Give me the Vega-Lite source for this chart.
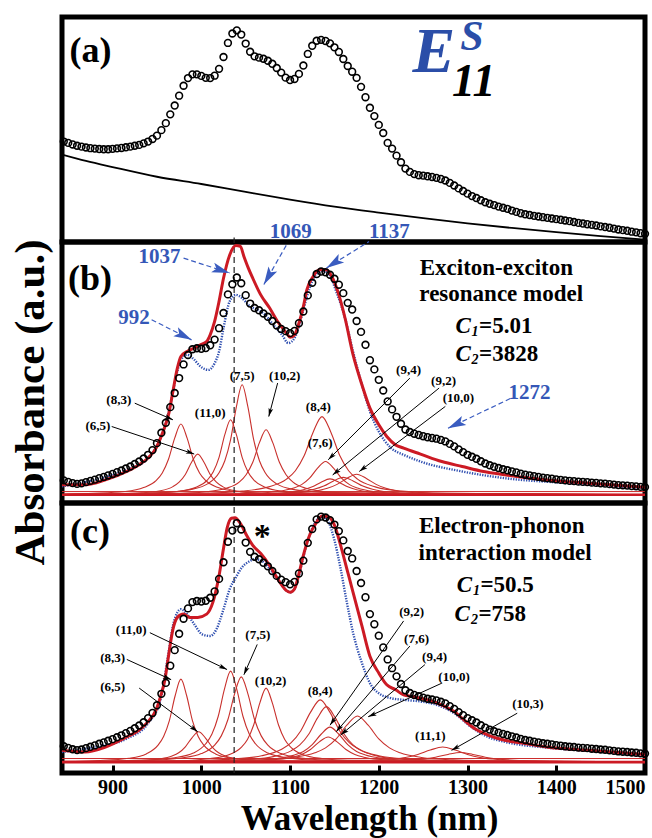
{
"$schema":"https://vega.github.io/schema/vega-lite/v6.json",
"padding":{"left":6,"top":13,"right":4,"bottom":0},
"spacing":0,
"bounds":"flush",
"config":{"view":{"stroke":"black","strokeWidth":5},"font":"Liberation Serif"},
"datasets":{
"circA":[{"x":845,"y":44.6},{"x":850,"y":44.0},{"x":855,"y":43.3},{"x":860,"y":42.7},{"x":865,"y":42.3},{"x":870,"y":41.9},{"x":875,"y":41.6},{"x":880,"y":41.4},{"x":885,"y":41.2},{"x":890,"y":41.1},{"x":895,"y":41.1},{"x":900,"y":41.3},{"x":905,"y":41.5},{"x":910,"y":41.7},{"x":915,"y":42.0},{"x":920,"y":42.3},{"x":925,"y":42.7},{"x":930,"y":43.1},{"x":935,"y":43.8},{"x":940,"y":44.6},{"x":945,"y":45.8},{"x":950,"y":47.3},{"x":955,"y":49.8},{"x":960,"y":53.0},{"x":965,"y":57.0},{"x":970,"y":61.0},{"x":975,"y":65.5},{"x":980,"y":70.0},{"x":985,"y":73.5},{"x":990,"y":75.2},{"x":995,"y":75.2},{"x":1000,"y":74.5},{"x":1005,"y":73.6},{"x":1010,"y":73.5},{"x":1015,"y":74.6},{"x":1020,"y":77.7},{"x":1025,"y":83.1},{"x":1030,"y":89.5},{"x":1035,"y":93.8},{"x":1040,"y":95.2},{"x":1045,"y":93.3},{"x":1050,"y":89.2},{"x":1055,"y":85.5},{"x":1060,"y":83.4},{"x":1065,"y":82.8},{"x":1070,"y":82.3},{"x":1075,"y":81.4},{"x":1080,"y":80.0},{"x":1085,"y":78.1},{"x":1090,"y":76.0},{"x":1095,"y":73.7},{"x":1100,"y":72.6},{"x":1105,"y":73.1},{"x":1110,"y":75.4},{"x":1115,"y":79.2},{"x":1120,"y":84.5},{"x":1125,"y":88.2},{"x":1130,"y":90.5},{"x":1135,"y":90.9},{"x":1140,"y":90.4},{"x":1145,"y":89.3},{"x":1150,"y":87.5},{"x":1155,"y":85.4},{"x":1160,"y":82.2},{"x":1165,"y":79.0},{"x":1170,"y":76.4},{"x":1175,"y":73.6},{"x":1180,"y":69.5},{"x":1185,"y":64.8},{"x":1190,"y":60.0},{"x":1195,"y":56.2},{"x":1200,"y":52.2},{"x":1205,"y":48.5},{"x":1210,"y":44.0},{"x":1215,"y":41.4},{"x":1220,"y":38.2},{"x":1225,"y":35.2},{"x":1230,"y":32.3},{"x":1235,"y":30.8},{"x":1240,"y":29.8},{"x":1245,"y":29.3},{"x":1250,"y":29.1},{"x":1255,"y":28.8},{"x":1260,"y":28.5},{"x":1265,"y":28.1},{"x":1270,"y":27.6},{"x":1275,"y":26.9},{"x":1280,"y":25.8},{"x":1285,"y":24.6},{"x":1290,"y":23.3},{"x":1295,"y":22.1},{"x":1300,"y":20.9},{"x":1305,"y":19.8},{"x":1310,"y":18.9},{"x":1315,"y":17.9},{"x":1320,"y":17.0},{"x":1325,"y":16.3},{"x":1330,"y":15.7},{"x":1335,"y":15.0},{"x":1340,"y":14.5},{"x":1345,"y":14.0},{"x":1350,"y":13.2},{"x":1355,"y":12.6},{"x":1360,"y":12.0},{"x":1365,"y":11.5},{"x":1370,"y":11.2},{"x":1375,"y":10.8},{"x":1380,"y":10.5},{"x":1385,"y":10.2},{"x":1390,"y":9.9},{"x":1395,"y":9.6},{"x":1400,"y":9.3},{"x":1405,"y":9.0},{"x":1410,"y":8.7},{"x":1415,"y":8.4},{"x":1420,"y":8.0},{"x":1425,"y":7.6},{"x":1430,"y":7.3},{"x":1435,"y":7.0},{"x":1440,"y":6.7},{"x":1445,"y":6.4},{"x":1450,"y":6.0},{"x":1455,"y":5.7},{"x":1460,"y":5.4},{"x":1465,"y":5.0},{"x":1470,"y":4.6},{"x":1475,"y":4.3},{"x":1480,"y":4.0},{"x":1485,"y":3.6},{"x":1490,"y":3.3},{"x":1495,"y":2.9},{"x":1500,"y":2.6}],
"baseA":[{"x":843,"y":38.7},{"x":870,"y":35.8},{"x":900,"y":33.0},{"x":950,"y":28.6},{"x":1000,"y":25.3},{"x":1050,"y":21.7},{"x":1100,"y":18.2},{"x":1150,"y":15.0},{"x":1200,"y":12.3},{"x":1250,"y":9.8},{"x":1300,"y":7.4},{"x":1350,"y":5.3},{"x":1400,"y":3.4},{"x":1450,"y":1.6},{"x":1500,"y":0.0}],
"circB":[{"x":845,"y":5.8},{"x":850,"y":5.2},{"x":855,"y":4.7},{"x":860,"y":4.4},{"x":865,"y":4.6},{"x":870,"y":5.1},{"x":875,"y":5.6},{"x":880,"y":6.1},{"x":885,"y":6.7},{"x":890,"y":7.2},{"x":895,"y":7.8},{"x":900,"y":8.4},{"x":905,"y":9.1},{"x":910,"y":9.8},{"x":915,"y":10.6},{"x":920,"y":11.4},{"x":925,"y":12.4},{"x":930,"y":13.4},{"x":935,"y":14.6},{"x":940,"y":16.1},{"x":945,"y":18.0},{"x":950,"y":20.8},{"x":955,"y":25.0},{"x":960,"y":29.0},{"x":965,"y":35.3},{"x":970,"y":41.0},{"x":975,"y":47.0},{"x":980,"y":52.5},{"x":985,"y":56.3},{"x":990,"y":58.6},{"x":995,"y":59.0},{"x":1000,"y":58.8},{"x":1005,"y":59.1},{"x":1010,"y":60.2},{"x":1015,"y":62.5},{"x":1020,"y":67.1},{"x":1025,"y":73.2},{"x":1030,"y":80.7},{"x":1035,"y":84.8},{"x":1040,"y":87.5},{"x":1045,"y":85.2},{"x":1050,"y":80.4},{"x":1055,"y":77.0},{"x":1060,"y":75.2},{"x":1065,"y":74.3},{"x":1070,"y":73.0},{"x":1075,"y":71.7},{"x":1080,"y":70.0},{"x":1085,"y":68.2},{"x":1090,"y":66.8},{"x":1095,"y":65.9},{"x":1100,"y":65.1},{"x":1105,"y":66.0},{"x":1110,"y":69.1},{"x":1115,"y":73.8},{"x":1120,"y":80.3},{"x":1125,"y":85.4},{"x":1130,"y":88.9},{"x":1135,"y":89.9},{"x":1140,"y":89.6},{"x":1145,"y":88.6},{"x":1150,"y":87.0},{"x":1155,"y":84.6},{"x":1160,"y":81.2},{"x":1165,"y":77.3},{"x":1170,"y":74.6},{"x":1175,"y":70.0},{"x":1180,"y":65.6},{"x":1185,"y":60.4},{"x":1190,"y":54.2},{"x":1195,"y":50.5},{"x":1200,"y":46.3},{"x":1205,"y":42.0},{"x":1210,"y":37.6},{"x":1215,"y":34.4},{"x":1220,"y":31.4},{"x":1225,"y":28.6},{"x":1230,"y":26.3},{"x":1235,"y":25.3},{"x":1240,"y":24.6},{"x":1245,"y":24.1},{"x":1250,"y":23.6},{"x":1255,"y":23.2},{"x":1260,"y":22.9},{"x":1265,"y":22.6},{"x":1270,"y":22.1},{"x":1275,"y":21.5},{"x":1280,"y":20.5},{"x":1285,"y":19.5},{"x":1290,"y":18.3},{"x":1295,"y":17.2},{"x":1300,"y":16.1},{"x":1305,"y":15.3},{"x":1310,"y":14.5},{"x":1315,"y":13.5},{"x":1320,"y":12.6},{"x":1325,"y":11.9},{"x":1330,"y":11.3},{"x":1335,"y":10.8},{"x":1340,"y":10.3},{"x":1345,"y":9.9},{"x":1350,"y":9.4},{"x":1355,"y":9.0},{"x":1360,"y":8.5},{"x":1365,"y":8.1},{"x":1370,"y":7.8},{"x":1375,"y":7.5},{"x":1380,"y":7.2},{"x":1385,"y":6.9},{"x":1390,"y":6.7},{"x":1395,"y":6.5},{"x":1400,"y":6.2},{"x":1405,"y":6.0},{"x":1410,"y":5.8},{"x":1415,"y":5.6},{"x":1420,"y":5.5},{"x":1425,"y":5.3},{"x":1430,"y":5.2},{"x":1435,"y":5.1},{"x":1440,"y":4.9},{"x":1445,"y":4.8},{"x":1450,"y":4.6},{"x":1455,"y":4.5},{"x":1460,"y":4.3},{"x":1465,"y":4.1},{"x":1470,"y":3.9},{"x":1475,"y":3.8},{"x":1480,"y":3.7},{"x":1485,"y":3.5},{"x":1490,"y":3.4},{"x":1495,"y":3.2},{"x":1500,"y":3.1}],
"fits":[
{"p":"b","s":"r","x":843,"y":4.0},{"p":"b","s":"r","x":869,"y":4.0},{"p":"b","s":"r","x":892,"y":6.0},{"p":"b","s":"r","x":916,"y":9.4},{"p":"b","s":"r","x":930,"y":12.1},{"p":"b","s":"r","x":940,"y":14.8},{"p":"b","s":"r","x":949,"y":18.8},{"p":"b","s":"r","x":954,"y":22.8},{"p":"b","s":"r","x":959,"y":27.5},{"p":"b","s":"r","x":963,"y":32.2},{"p":"b","s":"r","x":968,"y":41.6},{"p":"b","s":"r","x":973,"y":51.0},{"p":"b","s":"r","x":977,"y":55.7},{"p":"b","s":"r","x":984,"y":57.7},{"p":"b","s":"r","x":992,"y":59.1},{"p":"b","s":"r","x":999,"y":60.4},{"p":"b","s":"r","x":1006,"y":61.7},{"p":"b","s":"r","x":1010,"y":64.4},{"p":"b","s":"r","x":1015,"y":69.8},{"p":"b","s":"r","x":1020,"y":77.9},{"p":"b","s":"r","x":1025,"y":87.2},{"p":"b","s":"r","x":1032,"y":96.6},{"p":"b","s":"r","x":1039,"y":100.4},{"p":"b","s":"r","x":1044,"y":100.0},{"p":"b","s":"r","x":1048,"y":96.0},{"p":"b","s":"r","x":1053,"y":91.3},{"p":"b","s":"r","x":1058,"y":87.2},{"p":"b","s":"r","x":1067,"y":80.5},{"p":"b","s":"r","x":1077,"y":75.2},{"p":"b","s":"r","x":1086,"y":69.8},{"p":"b","s":"r","x":1096,"y":65.1},{"p":"b","s":"r","x":1100,"y":63.4},{"p":"b","s":"r","x":1105,"y":64.4},{"p":"b","s":"r","x":1110,"y":69.1},{"p":"b","s":"r","x":1115,"y":75.8},{"p":"b","s":"r","x":1119,"y":82.6},{"p":"b","s":"r","x":1126,"y":87.9},{"p":"b","s":"r","x":1133,"y":90.6},{"p":"b","s":"r","x":1141,"y":90.6},{"p":"b","s":"r","x":1148,"y":87.2},{"p":"b","s":"r","x":1155,"y":80.5},{"p":"b","s":"r","x":1162,"y":71.1},{"p":"b","s":"r","x":1171,"y":56.4},{"p":"b","s":"r","x":1181,"y":44.3},{"p":"b","s":"r","x":1190,"y":34.9},{"p":"b","s":"r","x":1200,"y":28.2},{"p":"b","s":"r","x":1209,"y":23.5},{"p":"b","s":"r","x":1219,"y":20.1},{"p":"b","s":"r","x":1228,"y":18.8},{"p":"b","s":"r","x":1247,"y":16.4},{"p":"b","s":"r","x":1271,"y":13.4},{"p":"b","s":"r","x":1294,"y":11.4},{"p":"b","s":"r","x":1318,"y":9.4},{"p":"b","s":"r","x":1342,"y":8.1},{"p":"b","s":"r","x":1389,"y":6.0},{"p":"b","s":"r","x":1436,"y":4.7},{"p":"b","s":"r","x":1500,"y":3.0},
{"p":"b","s":"u","x":843,"y":3.4},{"p":"b","s":"u","x":880,"y":6.0},{"p":"b","s":"u","x":916,"y":10.1},{"p":"b","s":"u","x":940,"y":14.8},{"p":"b","s":"u","x":954,"y":22.8},{"p":"b","s":"u","x":963,"y":32.9},{"p":"b","s":"u","x":968,"y":41.6},{"p":"b","s":"u","x":973,"y":49.7},{"p":"b","s":"u","x":977,"y":54.4},{"p":"b","s":"u","x":984,"y":56.4},{"p":"b","s":"u","x":992,"y":54.4},{"p":"b","s":"u","x":999,"y":51.7},{"p":"b","s":"u","x":1008,"y":50.3},{"p":"b","s":"u","x":1015,"y":53.0},{"p":"b","s":"u","x":1020,"y":57.7},{"p":"b","s":"u","x":1025,"y":67.1},{"p":"b","s":"u","x":1032,"y":77.9},{"p":"b","s":"u","x":1039,"y":80.5},{"p":"b","s":"u","x":1046,"y":79.2},{"p":"b","s":"u","x":1053,"y":76.5},{"p":"b","s":"u","x":1063,"y":74.5},{"p":"b","s":"u","x":1072,"y":72.5},{"p":"b","s":"u","x":1081,"y":68.5},{"p":"b","s":"u","x":1091,"y":64.4},{"p":"b","s":"u","x":1098,"y":61.1},{"p":"b","s":"u","x":1105,"y":63.1},{"p":"b","s":"u","x":1110,"y":67.8},{"p":"b","s":"u","x":1115,"y":74.5},{"p":"b","s":"u","x":1122,"y":83.2},{"p":"b","s":"u","x":1129,"y":88.6},{"p":"b","s":"u","x":1136,"y":90.2},{"p":"b","s":"u","x":1143,"y":89.3},{"p":"b","s":"u","x":1152,"y":81.9},{"p":"b","s":"u","x":1162,"y":71.1},{"p":"b","s":"u","x":1171,"y":57.7},{"p":"b","s":"u","x":1181,"y":44.3},{"p":"b","s":"u","x":1190,"y":33.6},{"p":"b","s":"u","x":1200,"y":25.5},{"p":"b","s":"u","x":1214,"y":18.8},{"p":"b","s":"u","x":1228,"y":16.1},{"p":"b","s":"u","x":1247,"y":13.4},{"p":"b","s":"u","x":1294,"y":9.4},{"p":"b","s":"u","x":1342,"y":6.7},{"p":"b","s":"u","x":1413,"y":4.7},{"p":"b","s":"u","x":1500,"y":2.7},
{"p":"c","s":"r","x":843,"y":4.3},{"p":"c","s":"r","x":869,"y":3.7},{"p":"c","s":"r","x":892,"y":5.5},{"p":"c","s":"r","x":916,"y":9.2},{"p":"c","s":"r","x":930,"y":11.7},{"p":"c","s":"r","x":940,"y":14.8},{"p":"c","s":"r","x":949,"y":19.1},{"p":"c","s":"r","x":954,"y":24.0},{"p":"c","s":"r","x":959,"y":30.2},{"p":"c","s":"r","x":963,"y":38.8},{"p":"c","s":"r","x":968,"y":48.6},{"p":"c","s":"r","x":973,"y":53.0},{"p":"c","s":"r","x":980,"y":54.2},{"p":"c","s":"r","x":987,"y":53.0},{"p":"c","s":"r","x":996,"y":53.0},{"p":"c","s":"r","x":1006,"y":54.2},{"p":"c","s":"r","x":1013,"y":58.5},{"p":"c","s":"r","x":1020,"y":68.3},{"p":"c","s":"r","x":1025,"y":78.2},{"p":"c","s":"r","x":1029,"y":85.6},{"p":"c","s":"r","x":1034,"y":89.3},{"p":"c","s":"r","x":1038,"y":89.5},{"p":"c","s":"r","x":1044,"y":87.4},{"p":"c","s":"r","x":1051,"y":83.1},{"p":"c","s":"r","x":1058,"y":79.4},{"p":"c","s":"r","x":1067,"y":76.4},{"p":"c","s":"r","x":1077,"y":72.0},{"p":"c","s":"r","x":1086,"y":67.1},{"p":"c","s":"r","x":1096,"y":62.8},{"p":"c","s":"r","x":1100,"y":62.2},{"p":"c","s":"r","x":1105,"y":63.4},{"p":"c","s":"r","x":1110,"y":69.0},{"p":"c","s":"r","x":1115,"y":75.7},{"p":"c","s":"r","x":1122,"y":83.1},{"p":"c","s":"r","x":1129,"y":87.4},{"p":"c","s":"r","x":1136,"y":90.1},{"p":"c","s":"r","x":1143,"y":89.9},{"p":"c","s":"r","x":1150,"y":86.8},{"p":"c","s":"r","x":1157,"y":79.4},{"p":"c","s":"r","x":1164,"y":70.8},{"p":"c","s":"r","x":1171,"y":62.2},{"p":"c","s":"r","x":1181,"y":49.9},{"p":"c","s":"r","x":1190,"y":38.8},{"p":"c","s":"r","x":1200,"y":32.6},{"p":"c","s":"r","x":1209,"y":28.3},{"p":"c","s":"r","x":1219,"y":26.5},{"p":"c","s":"r","x":1228,"y":24.6},{"p":"c","s":"r","x":1238,"y":24.0},{"p":"c","s":"r","x":1247,"y":23.4},{"p":"c","s":"r","x":1261,"y":22.2},{"p":"c","s":"r","x":1275,"y":20.3},{"p":"c","s":"r","x":1285,"y":18.5},{"p":"c","s":"r","x":1294,"y":16.0},{"p":"c","s":"r","x":1308,"y":12.3},{"p":"c","s":"r","x":1323,"y":9.9},{"p":"c","s":"r","x":1342,"y":8.0},{"p":"c","s":"r","x":1365,"y":6.8},{"p":"c","s":"r","x":1389,"y":5.5},{"p":"c","s":"r","x":1436,"y":4.3},{"p":"c","s":"r","x":1500,"y":2.8},
{"p":"c","s":"u","x":843,"y":3.7},{"p":"c","s":"u","x":880,"y":5.5},{"p":"c","s":"u","x":916,"y":8.6},{"p":"c","s":"u","x":940,"y":14.2},{"p":"c","s":"u","x":954,"y":22.8},{"p":"c","s":"u","x":963,"y":40.0},{"p":"c","s":"u","x":968,"y":49.9},{"p":"c","s":"u","x":973,"y":54.8},{"p":"c","s":"u","x":977,"y":56.0},{"p":"c","s":"u","x":984,"y":54.2},{"p":"c","s":"u","x":992,"y":50.5},{"p":"c","s":"u","x":1001,"y":46.8},{"p":"c","s":"u","x":1010,"y":46.2},{"p":"c","s":"u","x":1017,"y":48.6},{"p":"c","s":"u","x":1025,"y":56.0},{"p":"c","s":"u","x":1032,"y":63.4},{"p":"c","s":"u","x":1039,"y":67.7},{"p":"c","s":"u","x":1046,"y":71.4},{"p":"c","s":"u","x":1053,"y":73.3},{"p":"c","s":"u","x":1060,"y":74.3},{"p":"c","s":"u","x":1067,"y":73.9},{"p":"c","s":"u","x":1077,"y":70.8},{"p":"c","s":"u","x":1086,"y":67.1},{"p":"c","s":"u","x":1096,"y":62.8},{"p":"c","s":"u","x":1100,"y":62.2},{"p":"c","s":"u","x":1105,"y":63.4},{"p":"c","s":"u","x":1110,"y":68.3},{"p":"c","s":"u","x":1115,"y":75.1},{"p":"c","s":"u","x":1122,"y":83.1},{"p":"c","s":"u","x":1129,"y":88.1},{"p":"c","s":"u","x":1136,"y":89.9},{"p":"c","s":"u","x":1143,"y":88.1},{"p":"c","s":"u","x":1150,"y":81.3},{"p":"c","s":"u","x":1157,"y":70.8},{"p":"c","s":"u","x":1164,"y":58.5},{"p":"c","s":"u","x":1171,"y":47.4},{"p":"c","s":"u","x":1181,"y":36.3},{"p":"c","s":"u","x":1190,"y":28.9},{"p":"c","s":"u","x":1200,"y":25.2},{"p":"c","s":"u","x":1214,"y":23.4},{"p":"c","s":"u","x":1228,"y":22.8},{"p":"c","s":"u","x":1247,"y":22.2},{"p":"c","s":"u","x":1266,"y":20.9},{"p":"c","s":"u","x":1285,"y":17.9},{"p":"c","s":"u","x":1304,"y":12.9},{"p":"c","s":"u","x":1323,"y":9.2},{"p":"c","s":"u","x":1342,"y":7.4},{"p":"c","s":"u","x":1389,"y":5.3},{"p":"c","s":"u","x":1436,"y":4.1},{"p":"c","s":"u","x":1500,"y":2.5}],
"comps":[
{"p":"b","c":"83","x":845,"y":0.32},{"p":"b","c":"83","x":879,"y":0.6},{"p":"b","c":"83","x":914,"y":1.3},{"p":"b","c":"83","x":935,"y":2.9},{"p":"b","c":"83","x":949,"y":5.7},{"p":"b","c":"83","x":956,"y":8.8},{"p":"b","c":"83","x":963,"y":14.3},{"p":"b","c":"83","x":970,"y":22.8},{"p":"b","c":"83","x":977,"y":28.5},{"p":"b","c":"83","x":984,"y":22.8},{"p":"b","c":"83","x":991,"y":14.3},{"p":"b","c":"83","x":998,"y":8.8},{"p":"b","c":"83","x":1005,"y":5.7},{"p":"b","c":"83","x":1019,"y":2.9},{"p":"b","c":"83","x":1040,"y":1.3},{"p":"b","c":"83","x":1075,"y":0.6},{"p":"b","c":"83","x":1500,"y":0.02},
{"p":"b","c":"65","x":845,"y":0.14},{"p":"b","c":"65","x":898,"y":0.3},{"p":"b","c":"65","x":933,"y":0.8},{"p":"b","c":"65","x":954,"y":1.6},{"p":"b","c":"65","x":968,"y":3.3},{"p":"b","c":"65","x":975,"y":5.1},{"p":"b","c":"65","x":982,"y":8.2},{"p":"b","c":"65","x":989,"y":13.1},{"p":"b","c":"65","x":996,"y":16.4},{"p":"b","c":"65","x":1003,"y":13.1},{"p":"b","c":"65","x":1010,"y":8.2},{"p":"b","c":"65","x":1017,"y":5.1},{"p":"b","c":"65","x":1024,"y":3.3},{"p":"b","c":"65","x":1038,"y":1.6},{"p":"b","c":"65","x":1059,"y":0.8},{"p":"b","c":"65","x":1094,"y":0.3},{"p":"b","c":"65","x":1500,"y":0.01},
{"p":"b","c":"110","x":845,"y":0.14},{"p":"b","c":"110","x":942,"y":0.6},{"p":"b","c":"110","x":974.5,"y":1.4},{"p":"b","c":"110","x":994,"y":3.0},{"p":"b","c":"110","x":1007,"y":6.0},{"p":"b","c":"110","x":1013.5,"y":9.3},{"p":"b","c":"110","x":1020,"y":15.1},{"p":"b","c":"110","x":1026.5,"y":24.2},{"p":"b","c":"110","x":1033,"y":30.2},{"p":"b","c":"110","x":1039.5,"y":24.2},{"p":"b","c":"110","x":1046,"y":15.1},{"p":"b","c":"110","x":1052.5,"y":9.3},{"p":"b","c":"110","x":1059,"y":6.0},{"p":"b","c":"110","x":1072,"y":3.0},{"p":"b","c":"110","x":1091.5,"y":1.4},{"p":"b","c":"110","x":1124,"y":0.6},{"p":"b","c":"110","x":1500,"y":0.02},
{"p":"b","c":"75","x":845,"y":0.19},{"p":"b","c":"75","x":955,"y":0.9},{"p":"b","c":"75","x":987.5,"y":2.1},{"p":"b","c":"75","x":1007,"y":4.4},{"p":"b","c":"75","x":1020,"y":8.9},{"p":"b","c":"75","x":1026.5,"y":13.7},{"p":"b","c":"75","x":1033,"y":22.2},{"p":"b","c":"75","x":1039.5,"y":35.4},{"p":"b","c":"75","x":1046,"y":44.3},{"p":"b","c":"75","x":1052.5,"y":35.4},{"p":"b","c":"75","x":1059,"y":22.2},{"p":"b","c":"75","x":1065.5,"y":13.7},{"p":"b","c":"75","x":1072,"y":8.9},{"p":"b","c":"75","x":1085,"y":4.4},{"p":"b","c":"75","x":1104.5,"y":2.1},{"p":"b","c":"75","x":1137,"y":0.9},{"p":"b","c":"75","x":1500,"y":0.04},
{"p":"b","c":"102","x":845,"y":0.11},{"p":"b","c":"102","x":968,"y":0.5},{"p":"b","c":"102","x":1005.5,"y":1.2},{"p":"b","c":"102","x":1028,"y":2.6},{"p":"b","c":"102","x":1043,"y":5.2},{"p":"b","c":"102","x":1050.5,"y":8.1},{"p":"b","c":"102","x":1058,"y":13.1},{"p":"b","c":"102","x":1065.5,"y":21.0},{"p":"b","c":"102","x":1073,"y":26.2},{"p":"b","c":"102","x":1080.5,"y":21.0},{"p":"b","c":"102","x":1088,"y":13.1},{"p":"b","c":"102","x":1095.5,"y":8.1},{"p":"b","c":"102","x":1103,"y":5.2},{"p":"b","c":"102","x":1118,"y":2.6},{"p":"b","c":"102","x":1140.5,"y":1.2},{"p":"b","c":"102","x":1178,"y":0.5},{"p":"b","c":"102","x":1500,"y":0.03},
{"p":"b","c":"84","x":845,"y":0.15},{"p":"b","c":"84","x":996,"y":0.6},{"p":"b","c":"84","x":1046,"y":1.5},{"p":"b","c":"84","x":1076,"y":3.2},{"p":"b","c":"84","x":1096,"y":6.3},{"p":"b","c":"84","x":1106,"y":9.7},{"p":"b","c":"84","x":1116,"y":15.8},{"p":"b","c":"84","x":1126,"y":25.2},{"p":"b","c":"84","x":1136,"y":31.5},{"p":"b","c":"84","x":1146,"y":25.2},{"p":"b","c":"84","x":1156,"y":15.8},{"p":"b","c":"84","x":1166,"y":9.7},{"p":"b","c":"84","x":1176,"y":6.3},{"p":"b","c":"84","x":1196,"y":3.2},{"p":"b","c":"84","x":1226,"y":1.5},{"p":"b","c":"84","x":1276,"y":0.6},{"p":"b","c":"84","x":1500,"y":0.1},
{"p":"b","c":"76","x":845,"y":0.05},{"p":"b","c":"76","x":1014,"y":0.3},{"p":"b","c":"76","x":1059,"y":0.6},{"p":"b","c":"76","x":1086,"y":1.3},{"p":"b","c":"76","x":1104,"y":2.7},{"p":"b","c":"76","x":1113,"y":4.1},{"p":"b","c":"76","x":1122,"y":6.7},{"p":"b","c":"76","x":1131,"y":10.7},{"p":"b","c":"76","x":1140,"y":13.4},{"p":"b","c":"76","x":1149,"y":10.7},{"p":"b","c":"76","x":1158,"y":6.7},{"p":"b","c":"76","x":1167,"y":4.1},{"p":"b","c":"76","x":1176,"y":2.7},{"p":"b","c":"76","x":1194,"y":1.3},{"p":"b","c":"76","x":1221,"y":0.6},{"p":"b","c":"76","x":1266,"y":0.3},{"p":"b","c":"76","x":1500,"y":0.03},
{"p":"b","c":"94","x":845,"y":0.03},{"p":"b","c":"94","x":1005,"y":0.13},{"p":"b","c":"94","x":1055,"y":0.3},{"p":"b","c":"94","x":1085,"y":0.6},{"p":"b","c":"94","x":1105,"y":1.3},{"p":"b","c":"94","x":1115,"y":2.0},{"p":"b","c":"94","x":1125,"y":3.2},{"p":"b","c":"94","x":1135,"y":5.1},{"p":"b","c":"94","x":1145,"y":6.4},{"p":"b","c":"94","x":1155,"y":5.1},{"p":"b","c":"94","x":1165,"y":3.2},{"p":"b","c":"94","x":1175,"y":2.0},{"p":"b","c":"94","x":1185,"y":1.3},{"p":"b","c":"94","x":1205,"y":0.6},{"p":"b","c":"94","x":1235,"y":0.3},{"p":"b","c":"94","x":1285,"y":0.13},{"p":"b","c":"94","x":1500,"y":0.02},
{"p":"b","c":"92","x":845,"y":0.03},{"p":"b","c":"92","x":1006,"y":0.14},{"p":"b","c":"92","x":1061,"y":0.3},{"p":"b","c":"92","x":1094,"y":0.7},{"p":"b","c":"92","x":1116,"y":1.4},{"p":"b","c":"92","x":1127,"y":2.2},{"p":"b","c":"92","x":1138,"y":3.5},{"p":"b","c":"92","x":1149,"y":5.6},{"p":"b","c":"92","x":1160,"y":7.0},{"p":"b","c":"92","x":1171,"y":5.6},{"p":"b","c":"92","x":1182,"y":3.5},{"p":"b","c":"92","x":1193,"y":2.2},{"p":"b","c":"92","x":1204,"y":1.4},{"p":"b","c":"92","x":1226,"y":0.7},{"p":"b","c":"92","x":1259,"y":0.3},{"p":"b","c":"92","x":1314,"y":0.14},{"p":"b","c":"92","x":1500,"y":0.03},
{"p":"b","c":"100","x":845,"y":0.04},{"p":"b","c":"100","x":1021,"y":0.17},{"p":"b","c":"100","x":1076,"y":0.4},{"p":"b","c":"100","x":1109,"y":0.8},{"p":"b","c":"100","x":1131,"y":1.7},{"p":"b","c":"100","x":1142,"y":2.6},{"p":"b","c":"100","x":1153,"y":4.2},{"p":"b","c":"100","x":1164,"y":6.6},{"p":"b","c":"100","x":1175,"y":8.3},{"p":"b","c":"100","x":1186,"y":6.6},{"p":"b","c":"100","x":1197,"y":4.2},{"p":"b","c":"100","x":1208,"y":2.6},{"p":"b","c":"100","x":1219,"y":1.7},{"p":"b","c":"100","x":1241,"y":0.8},{"p":"b","c":"100","x":1274,"y":0.4},{"p":"b","c":"100","x":1329,"y":0.17},{"p":"b","c":"100","x":1500,"y":0.04},
{"p":"c","c":"83","x":845,"y":0.29},{"p":"c","c":"83","x":886,"y":0.6},{"p":"c","c":"83","x":918.5,"y":1.4},{"p":"c","c":"83","x":938,"y":3.0},{"p":"c","c":"83","x":951,"y":6.1},{"p":"c","c":"83","x":957.5,"y":9.4},{"p":"c","c":"83","x":964,"y":15.2},{"p":"c","c":"83","x":970.5,"y":24.3},{"p":"c","c":"83","x":977,"y":30.4},{"p":"c","c":"83","x":983.5,"y":24.3},{"p":"c","c":"83","x":990,"y":15.2},{"p":"c","c":"83","x":996.5,"y":9.4},{"p":"c","c":"83","x":1003,"y":6.1},{"p":"c","c":"83","x":1016,"y":3.0},{"p":"c","c":"83","x":1035.5,"y":1.4},{"p":"c","c":"83","x":1068,"y":0.6},{"p":"c","c":"83","x":1500,"y":0.02},
{"p":"c","c":"65","x":845,"y":0.11},{"p":"c","c":"65","x":892,"y":0.2},{"p":"c","c":"65","x":929.5,"y":0.5},{"p":"c","c":"65","x":952,"y":1.1},{"p":"c","c":"65","x":967,"y":2.2},{"p":"c","c":"65","x":974.5,"y":3.4},{"p":"c","c":"65","x":982,"y":5.6},{"p":"c","c":"65","x":989.5,"y":8.9},{"p":"c","c":"65","x":997,"y":11.1},{"p":"c","c":"65","x":1004.5,"y":8.9},{"p":"c","c":"65","x":1012,"y":5.6},{"p":"c","c":"65","x":1019.5,"y":3.4},{"p":"c","c":"65","x":1027,"y":2.2},{"p":"c","c":"65","x":1042,"y":1.1},{"p":"c","c":"65","x":1064.5,"y":0.5},{"p":"c","c":"65","x":1102,"y":0.2},{"p":"c","c":"65","x":1500,"y":0.01},
{"p":"c","c":"110","x":845,"y":0.18},{"p":"c","c":"110","x":935,"y":0.7},{"p":"c","c":"110","x":970,"y":1.6},{"p":"c","c":"110","x":991,"y":3.3},{"p":"c","c":"110","x":1005,"y":6.7},{"p":"c","c":"110","x":1012,"y":10.3},{"p":"c","c":"110","x":1019,"y":16.7},{"p":"c","c":"110","x":1026,"y":26.6},{"p":"c","c":"110","x":1033,"y":33.3},{"p":"c","c":"110","x":1040,"y":26.6},{"p":"c","c":"110","x":1047,"y":16.7},{"p":"c","c":"110","x":1054,"y":10.3},{"p":"c","c":"110","x":1061,"y":6.7},{"p":"c","c":"110","x":1075,"y":3.3},{"p":"c","c":"110","x":1096,"y":1.6},{"p":"c","c":"110","x":1131,"y":0.7},{"p":"c","c":"110","x":1500,"y":0.03},
{"p":"c","c":"75","x":845,"y":0.18},{"p":"c","c":"75","x":940,"y":0.6},{"p":"c","c":"75","x":977.5,"y":1.5},{"p":"c","c":"75","x":1000,"y":3.1},{"p":"c","c":"75","x":1015,"y":6.2},{"p":"c","c":"75","x":1022.5,"y":9.6},{"p":"c","c":"75","x":1030,"y":15.6},{"p":"c","c":"75","x":1037.5,"y":25.0},{"p":"c","c":"75","x":1045,"y":31.2},{"p":"c","c":"75","x":1052.5,"y":25.0},{"p":"c","c":"75","x":1060,"y":15.6},{"p":"c","c":"75","x":1067.5,"y":9.6},{"p":"c","c":"75","x":1075,"y":6.2},{"p":"c","c":"75","x":1090,"y":3.1},{"p":"c","c":"75","x":1112.5,"y":1.5},{"p":"c","c":"75","x":1150,"y":0.6},{"p":"c","c":"75","x":1500,"y":0.03},
{"p":"c","c":"102","x":845,"y":0.1},{"p":"c","c":"102","x":975,"y":0.5},{"p":"c","c":"102","x":1010,"y":1.3},{"p":"c","c":"102","x":1031,"y":2.7},{"p":"c","c":"102","x":1045,"y":5.4},{"p":"c","c":"102","x":1052,"y":8.3},{"p":"c","c":"102","x":1059,"y":13.6},{"p":"c","c":"102","x":1066,"y":21.7},{"p":"c","c":"102","x":1073,"y":27.1},{"p":"c","c":"102","x":1080,"y":21.7},{"p":"c","c":"102","x":1087,"y":13.6},{"p":"c","c":"102","x":1094,"y":8.3},{"p":"c","c":"102","x":1101,"y":5.4},{"p":"c","c":"102","x":1115,"y":2.7},{"p":"c","c":"102","x":1136,"y":1.3},{"p":"c","c":"102","x":1171,"y":0.5},{"p":"c","c":"102","x":1500,"y":0.03},
{"p":"c","c":"84","x":845,"y":0.13},{"p":"c","c":"84","x":980,"y":0.5},{"p":"c","c":"84","x":1035,"y":1.1},{"p":"c","c":"84","x":1068,"y":2.3},{"p":"c","c":"84","x":1090,"y":4.6},{"p":"c","c":"84","x":1101,"y":7.0},{"p":"c","c":"84","x":1112,"y":11.4},{"p":"c","c":"84","x":1123,"y":18.2},{"p":"c","c":"84","x":1134,"y":22.8},{"p":"c","c":"84","x":1145,"y":18.2},{"p":"c","c":"84","x":1156,"y":11.4},{"p":"c","c":"84","x":1167,"y":7.0},{"p":"c","c":"84","x":1178,"y":4.6},{"p":"c","c":"84","x":1200,"y":2.3},{"p":"c","c":"84","x":1233,"y":1.1},{"p":"c","c":"84","x":1288,"y":0.5},{"p":"c","c":"84","x":1500,"y":0.08},
{"p":"c","c":"92","x":845,"y":0.09},{"p":"c","c":"92","x":1001,"y":0.4},{"p":"c","c":"92","x":1051,"y":0.9},{"p":"c","c":"92","x":1081,"y":2.0},{"p":"c","c":"92","x":1101,"y":4.1},{"p":"c","c":"92","x":1111,"y":6.3},{"p":"c","c":"92","x":1121,"y":10.2},{"p":"c","c":"92","x":1131,"y":16.2},{"p":"c","c":"92","x":1141,"y":20.3},{"p":"c","c":"92","x":1151,"y":16.2},{"p":"c","c":"92","x":1161,"y":10.2},{"p":"c","c":"92","x":1171,"y":6.3},{"p":"c","c":"92","x":1181,"y":4.1},{"p":"c","c":"92","x":1201,"y":2.0},{"p":"c","c":"92","x":1231,"y":0.9},{"p":"c","c":"92","x":1281,"y":0.4},{"p":"c","c":"92","x":1500,"y":0.06},
{"p":"c","c":"76","x":845,"y":0.06},{"p":"c","c":"76","x":1005,"y":0.26},{"p":"c","c":"76","x":1055,"y":0.6},{"p":"c","c":"76","x":1085,"y":1.3},{"p":"c","c":"76","x":1105,"y":2.6},{"p":"c","c":"76","x":1115,"y":3.9},{"p":"c","c":"76","x":1125,"y":6.4},{"p":"c","c":"76","x":1135,"y":10.2},{"p":"c","c":"76","x":1145,"y":12.8},{"p":"c","c":"76","x":1155,"y":10.2},{"p":"c","c":"76","x":1165,"y":6.4},{"p":"c","c":"76","x":1175,"y":3.9},{"p":"c","c":"76","x":1185,"y":2.6},{"p":"c","c":"76","x":1205,"y":1.3},{"p":"c","c":"76","x":1235,"y":0.6},{"p":"c","c":"76","x":1285,"y":0.26},{"p":"c","c":"76","x":1500,"y":0.04},
{"p":"c","c":"94","x":845,"y":0.04},{"p":"c","c":"94","x":1003,"y":0.19},{"p":"c","c":"94","x":1053,"y":0.4},{"p":"c","c":"94","x":1083,"y":0.9},{"p":"c","c":"94","x":1103,"y":1.8},{"p":"c","c":"94","x":1113,"y":2.8},{"p":"c","c":"94","x":1123,"y":4.6},{"p":"c","c":"94","x":1133,"y":7.4},{"p":"c","c":"94","x":1143,"y":9.2},{"p":"c","c":"94","x":1153,"y":7.4},{"p":"c","c":"94","x":1163,"y":4.6},{"p":"c","c":"94","x":1173,"y":2.8},{"p":"c","c":"94","x":1183,"y":1.8},{"p":"c","c":"94","x":1203,"y":0.9},{"p":"c","c":"94","x":1233,"y":0.4},{"p":"c","c":"94","x":1283,"y":0.19},{"p":"c","c":"94","x":1500,"y":0.03},
{"p":"c","c":"100","x":845,"y":0.09},{"p":"c","c":"100","x":1008,"y":0.35},{"p":"c","c":"100","x":1068,"y":0.8},{"p":"c","c":"100","x":1104,"y":1.7},{"p":"c","c":"100","x":1128,"y":3.4},{"p":"c","c":"100","x":1140,"y":5.2},{"p":"c","c":"100","x":1152,"y":8.5},{"p":"c","c":"100","x":1164,"y":13.5},{"p":"c","c":"100","x":1176,"y":16.9},{"p":"c","c":"100","x":1188,"y":13.5},{"p":"c","c":"100","x":1200,"y":8.5},{"p":"c","c":"100","x":1212,"y":5.2},{"p":"c","c":"100","x":1224,"y":3.4},{"p":"c","c":"100","x":1248,"y":1.7},{"p":"c","c":"100","x":1284,"y":0.8},{"p":"c","c":"100","x":1344,"y":0.35},{"p":"c","c":"100","x":1500,"y":0.09},
{"p":"c","c":"111","x":845,"y":0.02},{"p":"c","c":"111","x":1076,"y":0.11},{"p":"c","c":"111","x":1146,"y":0.26},{"p":"c","c":"111","x":1188,"y":0.55},{"p":"c","c":"111","x":1216,"y":1.1},{"p":"c","c":"111","x":1230,"y":1.7},{"p":"c","c":"111","x":1244,"y":2.8},{"p":"c","c":"111","x":1258,"y":4.4},{"p":"c","c":"111","x":1272,"y":5.5},{"p":"c","c":"111","x":1286,"y":4.4},{"p":"c","c":"111","x":1300,"y":2.8},{"p":"c","c":"111","x":1314,"y":1.7},{"p":"c","c":"111","x":1328,"y":1.1},{"p":"c","c":"111","x":1356,"y":0.55},{"p":"c","c":"111","x":1398,"y":0.26},{"p":"c","c":"111","x":1468,"y":0.11},{"p":"c","c":"111","x":1500,"y":0.09},
{"p":"c","c":"103","x":845,"y":0.01},{"p":"c","c":"103","x":1096,"y":0.07},{"p":"c","c":"103","x":1166,"y":0.17},{"p":"c","c":"103","x":1208,"y":0.35},{"p":"c","c":"103","x":1236,"y":0.7},{"p":"c","c":"103","x":1250,"y":1.1},{"p":"c","c":"103","x":1264,"y":1.8},{"p":"c","c":"103","x":1278,"y":2.8},{"p":"c","c":"103","x":1292,"y":3.5},{"p":"c","c":"103","x":1306,"y":2.8},{"p":"c","c":"103","x":1320,"y":1.8},{"p":"c","c":"103","x":1334,"y":1.1},{"p":"c","c":"103","x":1348,"y":0.7},{"p":"c","c":"103","x":1376,"y":0.35},{"p":"c","c":"103","x":1418,"y":0.17},{"p":"c","c":"103","x":1488,"y":0.07},{"p":"c","c":"103","x":1500,"y":0.06}],
"hl":[{"p":"b","s":"z0","x":843,"y":0},{"p":"b","s":"z0","x":1500,"y":0},{"p":"b","s":"z1","x":843,"y":1.3},{"p":"b","s":"z1","x":1500,"y":1.3},{"p":"b","s":"v","x":1037,"y":-3.3},{"p":"b","s":"v","x":1037,"y":103.6},{"p":"c","s":"z0","x":843,"y":0},{"p":"c","s":"z0","x":1500,"y":0},{"p":"c","s":"z1","x":843,"y":1.3},{"p":"c","s":"z1","x":1500,"y":1.3},{"p":"c","s":"v","x":1037,"y":-4},{"p":"c","s":"v","x":1037,"y":94.9}],
"arrows":[
{"p":"b","k":"bl","id":"b992","x":944,"y":70.5},{"p":"b","k":"bl","id":"b992","x":989,"y":62.4},
{"p":"b","k":"bl","id":"b1037","x":980,"y":95.3},{"p":"b","k":"bl","id":"b1037","x":1032,"y":89.3},
{"p":"b","k":"bl","id":"b1069","x":1096.6,"y":101},{"p":"b","k":"bl","id":"b1069","x":1070.5,"y":84.7},
{"p":"b","k":"bl","id":"b1137","x":1189,"y":102},{"p":"b","k":"bl","id":"b1137","x":1141,"y":91.3},
{"p":"b","k":"bl","id":"b1272","x":1349,"y":38.9},{"p":"b","k":"bl","id":"b1272","x":1278,"y":26.8},
{"p":"b","k":"k","id":"b83","x":925,"y":36.9},{"p":"b","k":"k","id":"b83","x":968,"y":30.2},
{"p":"b","k":"k","id":"b65","x":899,"y":27.5},{"p":"b","k":"k","id":"b65","x":992,"y":16.4},
{"p":"b","k":"k","id":"b102","x":1086,"y":45},{"p":"b","k":"k","id":"b102","x":1076,"y":31.5},
{"p":"b","k":"k","id":"b94","x":1235,"y":47},{"p":"b","k":"k","id":"b94","x":1143,"y":14.1},
{"p":"b","k":"k","id":"b92","x":1268,"y":43},{"p":"b","k":"k","id":"b92","x":1148,"y":8},
{"p":"b","k":"k","id":"b100","x":1275,"y":35.6},{"p":"b","k":"k","id":"b100","x":1178,"y":9.4},
{"p":"c","k":"k","id":"c110","x":942,"y":47.4},{"p":"c","k":"k","id":"c110","x":1029,"y":33.9},
{"p":"c","k":"k","id":"c83","x":916,"y":37.6},{"p":"c","k":"k","id":"c83","x":966,"y":30.2},
{"p":"c","k":"k","id":"c65","x":930,"y":27.1},{"p":"c","k":"k","id":"c65","x":996,"y":11.1},
{"p":"c","k":"k","id":"c75","x":1063,"y":43.1},{"p":"c","k":"k","id":"c75","x":1048,"y":32},
{"p":"c","k":"k","id":"c92","x":1228,"y":51.7},{"p":"c","k":"k","id":"c92","x":1145,"y":13.5},
{"p":"c","k":"k","id":"c76","x":1235,"y":42.5},{"p":"c","k":"k","id":"c76","x":1152,"y":11.1},
{"p":"c","k":"k","id":"c94","x":1252,"y":35.7},{"p":"c","k":"k","id":"c94","x":1157,"y":9.9},
{"p":"c","k":"k","id":"c100","x":1271,"y":28.9},{"p":"c","k":"k","id":"c100","x":1188,"y":16.6},
{"p":"c","k":"k","id":"c103","x":1356,"y":17.9},{"p":"c","k":"k","id":"c103","x":1282,"y":4.3}],
"heads":[
{"p":"b","k":"bl","x":989,"y":62.4,"a":117},{"p":"b","k":"bl","x":1032,"y":89.3,"a":108},{"p":"b","k":"bl","x":1070.5,"y":84.7,"a":210},{"p":"b","k":"bl","x":1141,"y":91.3,"a":237},{"p":"b","k":"bl","x":1278,"y":26.8,"a":244},
{"p":"b","k":"k","x":968,"y":30.2,"a":114},{"p":"b","k":"k","x":992,"y":16.4,"a":109},{"p":"b","k":"k","x":1076,"y":31.5,"a":195},{"p":"b","k":"k","x":1143,"y":14.1,"a":225},{"p":"b","k":"k","x":1148,"y":8,"a":231},{"p":"b","k":"k","x":1178,"y":9.4,"a":233},
{"p":"c","k":"k","x":1029,"y":33.9,"a":115},{"p":"c","k":"k","x":966,"y":30.2,"a":114},{"p":"c","k":"k","x":996,"y":11.1,"a":127},{"p":"c","k":"k","x":1048,"y":32,"a":204},{"p":"c","k":"k","x":1145,"y":13.5,"a":215},{"p":"c","k":"k","x":1152,"y":11.1,"a":219},{"p":"c","k":"k","x":1157,"y":9.9,"a":230},{"p":"c","k":"k","x":1188,"y":16.6,"a":246},{"p":"c","k":"k","x":1282,"y":4.3,"a":241}],
"labels":[
{"p":"a","k":"pl","t":"(a)","x":875,"y":85.6},{"p":"a","k":"E","t":"E","x":1262,"y":84.7},{"p":"a","k":"S","t":"S","x":1305,"y":92},{"p":"a","k":"11","t":"11","x":1307,"y":71.5},
{"p":"b","k":"pl","t":"(b)","x":874.5,"y":87.1},
{"p":"b","k":"big","t":"Exciton-exciton","x":1332.5,"y":91.3},{"p":"b","k":"big","t":"resonance model","x":1338,"y":80.7},
{"p":"b","k":"Ci","t":"C","x":1295,"y":67.8},{"p":"b","k":"Ci","t":"C","x":1295,"y":56.5},
{"p":"b","k":"sub","t":"1","x":1308.5,"y":65.4},{"p":"b","k":"sub","t":"2","x":1308.5,"y":54.1},
{"p":"b","k":"eq","t":"=5.01","x":1313,"y":67.8},{"p":"b","k":"eq","t":"=3828","x":1313,"y":56.5},
{"p":"b","k":"bl","t":"992","x":924,"y":71},{"p":"b","k":"bl","t":"1037","x":953,"y":95.6},{"p":"b","k":"bl","t":"1069","x":1100.7,"y":106},{"p":"b","k":"bl","t":"1137","x":1212,"y":106},{"p":"b","k":"bl","t":"1272","x":1369.7,"y":40.8},
{"p":"b","k":"comp","t":"(8,3)","x":907,"y":38},{"p":"b","k":"comp","t":"(6,5)","x":883.5,"y":27.9},{"p":"b","k":"comp","t":"(11,0)","x":1010,"y":33.1},{"p":"b","k":"comp","t":"(7,5)","x":1046,"y":48},{"p":"b","k":"comp","t":"(10,2)","x":1094,"y":47.7},{"p":"b","k":"comp","t":"(8,4)","x":1131.8,"y":35.2},{"p":"b","k":"comp","t":"(7,6)","x":1134,"y":20.7},{"p":"b","k":"comp","t":"(9,4)","x":1233.5,"y":50.1},{"p":"b","k":"comp","t":"(9,2)","x":1273,"y":46},{"p":"b","k":"comp","t":"(10,0)","x":1289.8,"y":38.8},
{"p":"c","k":"pl","t":"(c)","x":874.5,"y":84.4},
{"p":"c","k":"big","t":"Electron-phonon","x":1338.6,"y":86.6},{"p":"c","k":"big","t":"interaction model","x":1342.3,"y":76.7},
{"p":"c","k":"Ci","t":"C","x":1296.5,"y":65},{"p":"c","k":"Ci","t":"C","x":1294,"y":54.3},
{"p":"c","k":"sub","t":"1","x":1310,"y":62.8},{"p":"c","k":"sub","t":"2","x":1307.8,"y":52.1},
{"p":"c","k":"eq","t":"=50.5","x":1314.5,"y":65},{"p":"c","k":"eq","t":"=758","x":1312.3,"y":54.3},
{"p":"c","k":"star","t":"*","x":1068.6,"y":82.6},
{"p":"c","k":"comp","t":"(11,0)","x":921,"y":48.3},{"p":"c","k":"comp","t":"(8,3)","x":900,"y":38.2},{"p":"c","k":"comp","t":"(6,5)","x":900,"y":27.5},{"p":"c","k":"comp","t":"(7,5)","x":1063.6,"y":46.6},{"p":"c","k":"comp","t":"(10,2)","x":1078,"y":29.7},{"p":"c","k":"comp","t":"(8,4)","x":1134,"y":26.1},{"p":"c","k":"comp","t":"(9,2)","x":1237,"y":55},{"p":"c","k":"comp","t":"(7,6)","x":1242.5,"y":45.1},{"p":"c","k":"comp","t":"(9,4)","x":1262.8,"y":38.5},{"p":"c","k":"comp","t":"(10,0)","x":1284.8,"y":31.2},{"p":"c","k":"comp","t":"(10,3)","x":1368,"y":21.3},{"p":"c","k":"comp","t":"(11,1)","x":1258,"y":9.5}]
},
"vconcat":[
{"width":583,"height":225,
"encoding":{"x":{"field":"x","type":"quantitative","scale":{"domain":[843,1500],"nice":false,"zero":false},"axis":null},"y":{"field":"y","type":"quantitative","scale":{"domain":[-1.1,101.3],"nice":false,"zero":false},"axis":null}},
"layer":[
{"data":{"name":"baseA"},"mark":{"type":"line","color":"black","strokeWidth":1.8,"interpolate":"monotone","clip":true}},
{"data":{"name":"circA"},"mark":{"type":"point","shape":"circle","filled":false,"color":"black","strokeWidth":1.6,"size":46,"opacity":1}},
{"data":{"name":"labels"},"transform":[{"filter":"datum.p=='a'&&datum.k=='pl'"}],"mark":{"type":"text","fontSize":36,"fontWeight":"bold","baseline":"middle","color":"black"},"encoding":{"text":{"field":"t"}}},
{"data":{"name":"labels"},"transform":[{"filter":"datum.k=='E'"}],"mark":{"type":"text","fontSize":64,"fontWeight":"bold","fontStyle":"italic","baseline":"middle","color":"#2b4ea8"},"encoding":{"text":{"field":"t"}}},
{"data":{"name":"labels"},"transform":[{"filter":"datum.k=='S'"}],"mark":{"type":"text","fontSize":42,"fontWeight":"bold","fontStyle":"italic","baseline":"middle","color":"#2b4ea8"},"encoding":{"text":{"field":"t"}}},
{"data":{"name":"labels"},"transform":[{"filter":"datum.k=='11'"}],"mark":{"type":"text","fontSize":46,"fontWeight":"bold","fontStyle":"italic","baseline":"middle","color":"black"},"encoding":{"text":{"field":"t"}}}
]},
{"width":583,"height":261,
"encoding":{"x":{"field":"x","type":"quantitative","scale":{"domain":[843,1500],"nice":false,"zero":false},"axis":null},"y":{"field":"y","type":"quantitative","scale":{"domain":[-3.3,101.8],"nice":false,"zero":false},"axis":{"title":"Absorbance (a.u.)","labels":false,"ticks":false,"domain":false,"grid":false,"titleFontSize":43,"titleFontWeight":"bold","titleColor":"black","titleX":-32,"titleY":160,"titleBaseline":"middle","titleAngle":-90,"titleAlign":"center"}}},
"layer":[
{"data":{"name":"hl"},"transform":[{"filter":"datum.p=='b'&&datum.s=='z1'"}],"mark":{"type":"line","color":"#cc2a2a","strokeWidth":1}},
{"data":{"name":"comps"},"transform":[{"filter":"datum.p=='b'"}],"mark":{"type":"line","color":"#c8302c","strokeWidth":1.1,"interpolate":"monotone"},"encoding":{"detail":{"field":"c"}}},
{"data":{"name":"hl"},"transform":[{"filter":"datum.p=='b'&&datum.s=='z0'"}],"mark":{"type":"line","color":"#cc1a24","strokeWidth":2.6}},
{"data":{"name":"hl"},"transform":[{"filter":"datum.p=='b'&&datum.s=='v'"}],"mark":{"type":"line","color":"#222","strokeWidth":1.2,"strokeDash":[6,4]}},
{"data":{"name":"fits"},"transform":[{"filter":"datum.p=='b'&&datum.s=='u'"}],"mark":{"type":"line","color":"#2f4fb0","strokeWidth":2.4,"strokeDash":[1.3,1.3],"interpolate":"monotone"}},
{"data":{"name":"fits"},"transform":[{"filter":"datum.p=='b'&&datum.s=='r'"}],"mark":{"type":"line","color":"#cc1a24","strokeWidth":3,"interpolate":"monotone"}},
{"data":{"name":"circB"},"mark":{"type":"point","shape":"circle","filled":false,"color":"black","strokeWidth":1.6,"size":46,"opacity":1}},
{"data":{"name":"arrows"},"transform":[{"filter":"datum.p=='b'&&datum.k=='bl'"}],"mark":{"type":"line","color":"#3a5cc0","strokeWidth":1.2,"strokeDash":[5,3]},"encoding":{"detail":{"field":"id"}}},
{"data":{"name":"arrows"},"transform":[{"filter":"datum.p=='b'&&datum.k=='k'"}],"mark":{"type":"line","color":"black","strokeWidth":1},"encoding":{"detail":{"field":"id"}}},
{"data":{"name":"heads"},"transform":[{"filter":"datum.p=='b'&&datum.k=='bl'"}],"mark":{"type":"point","shape":"M0,0L-0.45,1.6L0,1.25L0.45,1.6Z","filled":true,"color":"#3a5cc0","size":500,"opacity":1},"encoding":{"angle":{"field":"a","type":"quantitative","scale":null}}},
{"data":{"name":"heads"},"transform":[{"filter":"datum.p=='b'&&datum.k=='k'"}],"mark":{"type":"point","shape":"M0,0L-0.45,1.6L0,1.25L0.45,1.6Z","filled":true,"color":"black","size":110,"opacity":1},"encoding":{"angle":{"field":"a","type":"quantitative","scale":null}}},
{"data":{"name":"labels"},"transform":[{"filter":"datum.p=='b'&&datum.k=='pl'"}],"mark":{"type":"text","fontSize":36,"fontWeight":"bold","baseline":"middle","color":"black"},"encoding":{"text":{"field":"t"}}},
{"data":{"name":"labels"},"transform":[{"filter":"datum.p=='b'&&datum.k=='big'"}],"mark":{"type":"text","fontSize":23,"fontWeight":"bold","baseline":"middle","color":"black"},"encoding":{"text":{"field":"t"}}},
{"data":{"name":"labels"},"transform":[{"filter":"datum.p=='b'&&datum.k=='Ci'"}],"mark":{"type":"text","fontSize":23,"fontWeight":"bold","fontStyle":"italic","baseline":"middle","color":"black"},"encoding":{"text":{"field":"t"}}},
{"data":{"name":"labels"},"transform":[{"filter":"datum.p=='b'&&datum.k=='sub'"}],"mark":{"type":"text","fontSize":14,"fontWeight":"bold","fontStyle":"italic","baseline":"middle","color":"black"},"encoding":{"text":{"field":"t"}}},
{"data":{"name":"labels"},"transform":[{"filter":"datum.p=='b'&&datum.k=='eq'"}],"mark":{"type":"text","fontSize":23,"fontWeight":"bold","baseline":"middle","align":"left","color":"black"},"encoding":{"text":{"field":"t"}}},
{"data":{"name":"labels"},"transform":[{"filter":"datum.p=='b'&&datum.k=='bl'"}],"mark":{"type":"text","fontSize":21,"fontWeight":"bold","baseline":"middle","color":"#3557b7"},"encoding":{"text":{"field":"t"}}},
{"data":{"name":"labels"},"transform":[{"filter":"datum.p=='b'&&datum.k=='comp'"}],"mark":{"type":"text","fontSize":13,"fontWeight":"bold","baseline":"middle","color":"black"},"encoding":{"text":{"field":"t"}}}
]},
{"width":583,"height":270,
"encoding":{"x":{"field":"x","type":"quantitative","scale":{"domain":[843,1500],"nice":false,"zero":false},"axis":{"values":[900,1000,1100,1200,1300,1400,1500],"format":"d","labelFontSize":20,"labelFontWeight":"bold","labelColor":"black","labelBaseline":"alphabetic","labelPadding":28,"tickSize":-8,"tickWidth":3,"tickColor":"black","domain":false,"grid":false,"labelFlush":true,"title":"Wavelength (nm)","titleFontSize":35,"titleFontWeight":"bold","titleColor":"black","titleX":307,"titleY":56,"titleBaseline":"alphabetic"}},"y":{"field":"y","type":"quantitative","scale":{"domain":[-4.0,94.9],"nice":false,"zero":false},"axis":null}},
"layer":[
{"data":{"name":"hl"},"transform":[{"filter":"datum.p=='c'&&datum.s=='z1'"}],"mark":{"type":"line","color":"#cc2a2a","strokeWidth":1}},
{"data":{"name":"comps"},"transform":[{"filter":"datum.p=='c'"}],"mark":{"type":"line","color":"#c8302c","strokeWidth":1.1,"interpolate":"monotone"},"encoding":{"detail":{"field":"c"}}},
{"data":{"name":"hl"},"transform":[{"filter":"datum.p=='c'&&datum.s=='z0'"}],"mark":{"type":"line","color":"#cc1a24","strokeWidth":2.6}},
{"data":{"name":"hl"},"transform":[{"filter":"datum.p=='c'&&datum.s=='v'"}],"mark":{"type":"line","color":"#222","strokeWidth":1.2,"strokeDash":[6,4]}},
{"data":{"name":"fits"},"transform":[{"filter":"datum.p=='c'&&datum.s=='u'"}],"mark":{"type":"line","color":"#2f4fb0","strokeWidth":2.4,"strokeDash":[1.3,1.3],"interpolate":"monotone"}},
{"data":{"name":"fits"},"transform":[{"filter":"datum.p=='c'&&datum.s=='r'"}],"mark":{"type":"line","color":"#cc1a24","strokeWidth":3,"interpolate":"monotone"}},
{"data":{"name":"circB"},"mark":{"type":"point","shape":"circle","filled":false,"color":"black","strokeWidth":1.6,"size":46,"opacity":1}},
{"data":{"name":"arrows"},"transform":[{"filter":"datum.p=='c'"}],"mark":{"type":"line","color":"black","strokeWidth":1},"encoding":{"detail":{"field":"id"}}},
{"data":{"name":"heads"},"transform":[{"filter":"datum.p=='c'"}],"mark":{"type":"point","shape":"M0,0L-0.45,1.6L0,1.25L0.45,1.6Z","filled":true,"color":"black","size":110,"opacity":1},"encoding":{"angle":{"field":"a","type":"quantitative","scale":null}}},
{"data":{"name":"labels"},"transform":[{"filter":"datum.p=='c'&&datum.k=='pl'"}],"mark":{"type":"text","fontSize":36,"fontWeight":"bold","baseline":"middle","color":"black"},"encoding":{"text":{"field":"t"}}},
{"data":{"name":"labels"},"transform":[{"filter":"datum.p=='c'&&datum.k=='big'"}],"mark":{"type":"text","fontSize":23,"fontWeight":"bold","baseline":"middle","color":"black"},"encoding":{"text":{"field":"t"}}},
{"data":{"name":"labels"},"transform":[{"filter":"datum.p=='c'&&datum.k=='Ci'"}],"mark":{"type":"text","fontSize":23,"fontWeight":"bold","fontStyle":"italic","baseline":"middle","color":"black"},"encoding":{"text":{"field":"t"}}},
{"data":{"name":"labels"},"transform":[{"filter":"datum.p=='c'&&datum.k=='sub'"}],"mark":{"type":"text","fontSize":14,"fontWeight":"bold","fontStyle":"italic","baseline":"middle","color":"black"},"encoding":{"text":{"field":"t"}}},
{"data":{"name":"labels"},"transform":[{"filter":"datum.p=='c'&&datum.k=='eq'"}],"mark":{"type":"text","fontSize":23,"fontWeight":"bold","baseline":"middle","align":"left","color":"black"},"encoding":{"text":{"field":"t"}}},
{"data":{"name":"labels"},"transform":[{"filter":"datum.p=='c'&&datum.k=='star'"}],"mark":{"type":"text","fontSize":34,"fontWeight":"bold","baseline":"middle","color":"black"},"encoding":{"text":{"field":"t"}}},
{"data":{"name":"labels"},"transform":[{"filter":"datum.p=='c'&&datum.k=='comp'"}],"mark":{"type":"text","fontSize":13,"fontWeight":"bold","baseline":"middle","color":"black"},"encoding":{"text":{"field":"t"}}}
]}
]
}
